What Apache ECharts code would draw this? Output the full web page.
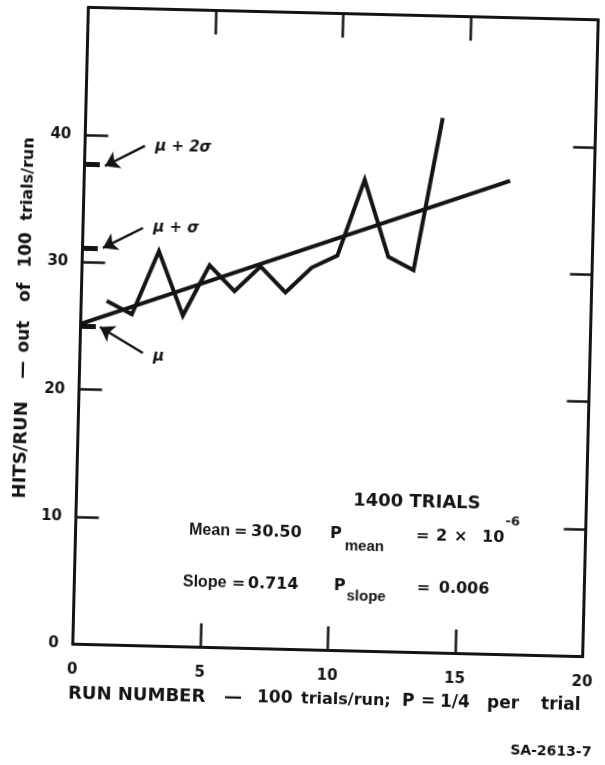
<!DOCTYPE html>
<html>
<head>
<meta charset="utf-8">
<title>Hits per run</title>
<script src="https://cdn.jsdelivr.net/npm/echarts@6.0.0/dist/echarts.min.js"></script>
<style>
html,body{margin:0;padding:0;background:#ffffff;overflow:hidden;width:605px;height:765px;}
#chart{position:absolute;left:0;top:0;width:605px;height:765px;transform-origin:335.5px 332px;transform:rotate(1.4deg);}
</style>
</head>
<body>
<div id="chart"></div>
<script>
// ---------------- data ----------------
const runs = [1, 2, 3, 4, 5, 6, 7, 8, 9, 10, 11, 12, 13, 14];
const hits = [27, 26, 31, 26, 30, 28, 30, 28, 30, 31, 37, 31, 30, 42];
const trendX = [0, 16.7];
const trendY = [25.15, 37.2];
const sigmaLabels = ['μ', 'μ + σ', 'μ + 2σ'];
const sigmaLevels = [25, 31.1, 37.7];
const xTickLabels = ['0', '5', '10', '15', '20'];
const yTickLabels = ['0', '10', '20', '30', '40'];
const statsTitle = '1400 TRIALS';
const meanValue = '30.50';
const pMeanMantissa = '2';
const pMeanExponent = '-6';
const slopeValue = '0.714';
const pSlopeValue = '0.006';
const figureId = 'SA-2613-7';

// ---------------- style / layout ----------------
const INK = '#141414';
const FONT = '"DejaVu Sans", "Liberation Sans", sans-serif';
const WORDFONT = '"Liberation Sans", "DejaVu Sans", sans-serif';
const GRID = { left: 80.5, top: 13.5, width: 510, height: 637 };

const chart = echarts.init(document.getElementById('chart'), null, { renderer: 'canvas' });

const axisLine = { show: true, onZero: false, lineStyle: { color: INK, width: 3 } };
const tick = (len) => ({ show: true, inside: true, length: len, lineStyle: { color: INK, width: 2.5 } });
const labelStyle = { color: INK, fontFamily: FONT, fontWeight: 'bold', fontSize: 15 };

// annotation placements (data coordinates of arrow tails/tips and label anchors)
const arrowSegs = [
  [[2.47, 22.98], [0.76, 24.94]],
  [[2.35, 32.79], [0.80, 31.15]],
  [[2.35, 39.23], [0.80, 37.58]]
];
const sigmaLabelAt = [[2.87, 22.69], [2.75, 32.81], [2.75, 39.17]];

const option = {
  animation: false,
  backgroundColor: '#ffffff',
  grid: Object.assign({ containLabel: false, outerBoundsMode: 'none' }, GRID),
  xAxis: [
    {
      type: 'value', min: 0, max: 20, interval: 5, position: 'bottom',
      axisLine, axisTick: tick(24), splitLine: { show: false },
      axisLabel: Object.assign({ margin: 18, formatter: v => xTickLabels.includes(String(v)) ? String(v) : '' }, labelStyle)
    },
    {
      type: 'value', min: 0, max: 20, interval: 5, position: 'top',
      axisLine, axisTick: tick(24), splitLine: { show: false }, axisLabel: { show: false }
    }
  ],
  yAxis: [
    {
      type: 'value', min: 0, max: 50, interval: 10, position: 'left',
      axisLine, axisTick: tick(23), splitLine: { show: false },
      axisLabel: Object.assign({ margin: 14, formatter: v => yTickLabels.includes(String(v)) ? String(v) : '' }, labelStyle)
    },
    {
      type: 'value', min: 0, max: 50, interval: 10, position: 'right',
      axisLine, axisTick: tick(22), splitLine: { show: false }, axisLabel: { show: false }
    }
  ],
  series: [
    {
      name: 'Hits per run', type: 'line', xAxisIndex: 0, yAxisIndex: 0,
      data: runs.map((r, i) => [r, hits[i]]),
      symbol: 'none', lineStyle: { color: INK, width: 4, join: 'miter' }, z: 4
    },
    {
      name: 'Trend', type: 'line', xAxisIndex: 0, yAxisIndex: 0,
      data: trendX.map((x, i) => [x, trendY[i]]),
      symbol: 'none', lineStyle: { color: INK, width: 4 }, z: 3
    },
    {
      name: 'sigma markers', type: 'line', xAxisIndex: 0, yAxisIndex: 0, data: [],
      markLine: {
        silent: true, symbol: ['none', 'none'], label: { show: false },
        lineStyle: { color: INK, width: 5, type: 'solid' },
        data: sigmaLevels.map(v => [{ coord: [0, v] }, { coord: [0.6, v] }])
      }
    },
    {
      name: 'arrows', type: 'line', xAxisIndex: 0, yAxisIndex: 0, data: [],
      markLine: {
        silent: true, symbol: ['none', 'arrow'], symbolSize: 14, label: { show: false },
        lineStyle: { color: INK, width: 2.5, type: 'solid' },
        data: arrowSegs.map(s => [{ coord: s[0] }, { coord: s[1] }])
      }
    }
  ]
};
chart.setOption(option);

// ---------------- text elements ----------------
function txt(text, x, y, size, opts) {
  opts = opts || {};
  const align = opts.align || 'left';
  const fam = opts.family || FONT;
  const font = (opts.italic ? 'italic ' : '') + (opts.weight || 'bold') + ' ' + size + 'px ' + fam;
  return {
    type: 'text', x: x, y: y, rotation: opts.rot || 0, silent: true, z: 20,
    style: {
      text: text, fill: INK, font: font,
      align: align, textAlign: align,
      verticalAlign: 'middle', textVerticalAlign: 'middle'
    }
  };
}
const W = { family: WORDFONT };

const g = [];
// sigma labels
sigmaLabels.forEach((s, i) => {
  const p = chart.convertToPixel({ seriesIndex: 0 }, sigmaLabelAt[i]);
  g.push(txt(s, p[0], p[1], 15, { italic: true }));
});

// statistics block
g.push(txt(statsTitle, 421, 500, 18, { align: 'center' }));
g.push(txt('Mean', 194, 533.5, 16, W));
g.push(txt('=', 239, 533.5, 16));
g.push(txt(meanValue, 256, 533.5, 16));
g.push(txt('P', 335, 533.5, 16));
g.push(txt('mean', 350, 546, 15, W));
g.push(txt('=', 421, 533.5, 16));
g.push(txt(pMeanMantissa, 441, 533.5, 16));
g.push(txt('×', 459, 533.5, 16));
g.push(txt('10', 487, 533.5, 16));
g.push(txt(pMeanExponent, 510, 518, 13));

g.push(txt('Slope', 189, 585.6, 16, W));
g.push(txt('=', 238, 585.6, 16));
g.push(txt(slopeValue, 254, 585.6, 16));
g.push(txt('P', 340, 585.6, 16));
g.push(txt('slope', 353, 596, 15, W));
g.push(txt('=', 423, 585.6, 16));
g.push(txt(pSlopeValue, 445, 585.6, 16));

// x axis title
const yX = 700;
g.push(txt('RUN NUMBER', 77, yX, 18));
g.push(txt('—', 233, yX, 18));
g.push(txt('100', 266, yX, 17));
g.push(txt('trials/run;', 310, yX, 16));
g.push(txt('P', 411, yX, 17));
g.push(txt('=', 430, yX, 17));
g.push(txt('1/4', 449, yX, 17));
g.push(txt('per', 496, yX, 17));
g.push(txt('trial', 550, yX, 17));

// y axis title (reads bottom to top)
const xY = 24.8, R = Math.PI / 2;
g.push(txt('HITS/RUN', xY, 457.6, 18, { align: 'center', rot: R }));
g.push(txt('—', xY, 377.6, 18, { align: 'center', rot: R }));
g.push(txt('out', xY, 344.3, 17, { align: 'center', rot: R }));
g.push(txt('of', xY, 299.9, 17, { align: 'center', rot: R }));
g.push(txt('100', xY, 257.6, 17, { align: 'center', rot: R }));
g.push(txt('trials/run', xY, 186.6, 16, { align: 'center', rot: R }));

// figure id
g.push(txt(figureId, 561, 746.6, 14, { align: 'center' }));

chart.setOption({ graphic: { elements: g } });
</script>
</body>
</html>
